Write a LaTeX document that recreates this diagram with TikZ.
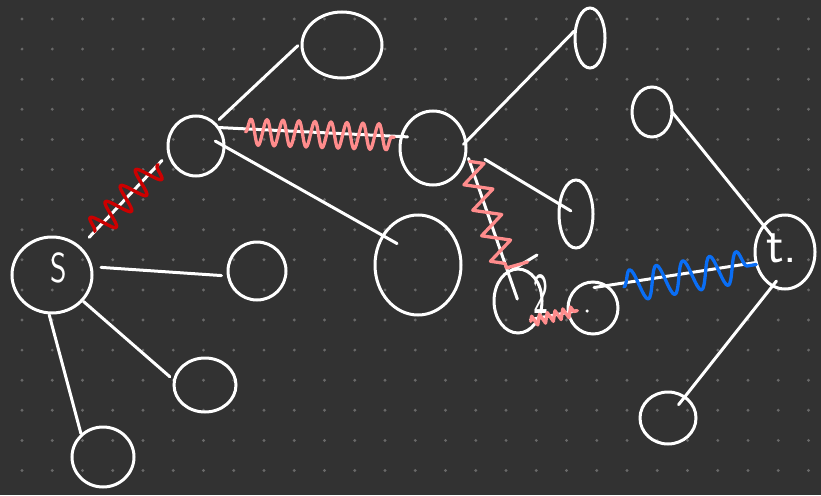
\documentclass[tikz,border=0pt]{standalone}
\usetikzlibrary{shapes.geometric,decorations.pathmorphing,calc}
\definecolor{bg}{RGB}{50,50,50}
\definecolor{griddot}{RGB}{105,105,105}
\definecolor{redw}{RGB}{204,0,0}
\definecolor{pinkw}{RGB}{255,140,140}
\definecolor{bluew}{RGB}{10,110,245}
\begin{document}
\begin{tikzpicture}[x=1pt,y=-1pt,
  vert/.style={ellipse, draw=white, line width=3pt, inner sep=0pt, outer sep=0pt},
  wire/.style={draw=white, line width=3pt, line cap=round},
  flowline/.style={line width=3.3pt, line cap=round, line join=round},
  redsnake/.style={flowline, draw=redw, decorate, decoration={snake, amplitude=13pt, segment length=22pt}},
  pinksnake/.style={flowline, draw=pinkw, decorate, decoration={snake, amplitude=13pt, segment length=16pt}},
  pinksmall/.style={flowline, draw=pinkw, decorate, decoration={zigzag, amplitude=5pt, segment length=8pt}},
  bluesnake/.style={flowline, draw=bluew, decorate, decoration={snake, amplitude=16pt, segment length=27pt}},
  lbl/.style={text=white, inner sep=0pt, font=\sffamily}]
\fill[bg] (0,0) rectangle (821,495);
\useasboundingbox (0,0) rectangle (821,495);
\foreach \i in {0,...,26} {\foreach \j in {0,...,15} {\fill[griddot] (22+30.25*\i,19+30.1*\j) circle (1.6pt);}}
% nodes
\node[vert, minimum width=80pt, minimum height=76pt]  (S) at (52,275) {};
\node[vert, minimum width=56pt, minimum height=60pt]  (A) at (196,146) {};
\node[vert, minimum width=80pt, minimum height=66pt]  (B) at (342,45) {};
\node[vert, minimum width=66pt, minimum height=74pt]  (C) at (433,148) {};
\node[vert, minimum width=86pt, minimum height=100pt] (D) at (418,265) {};
\node[vert, minimum width=30pt, minimum height=60pt]  (E) at (590,38) {};
\node[vert, minimum width=34pt, minimum height=68pt]  (F) at (576,214) {};
\node[vert, minimum width=48pt, minimum height=64pt]  (G) at (518,301) {};
\node[vert, minimum width=50pt, minimum height=52pt]  (H) at (593,308) {};
\node[vert, minimum width=60pt, minimum height=74pt]  (T) at (785,252) {};
\node[vert, minimum width=40pt, minimum height=50pt]  (I) at (652,112) {};
\node[vert, minimum width=56pt, minimum height=52pt]  (J) at (668,418) {};
\node[vert, minimum width=58pt, minimum height=58pt]  (K) at (257,271) {};
\node[vert, minimum width=62pt, minimum height=54pt]  (L) at (205,385) {};
\node[vert, minimum width=62pt, minimum height=60pt]  (M) at (103,457) {};
% labels
\node[lbl, font=\sffamily\fontsize{42}{42}\selectfont] (Slbl) at (59,268) {\scalebox{0.75}[1]{S}};
\node[lbl, font=\sffamily\fontsize{52}{52}\selectfont, anchor=base west] (Tlbl) at (766,262) {t.};
\node[lbl, font=\sffamily\fontsize{58}{58}\selectfont] (Glbl) at (541,294) {\scalebox{0.55}[1]{2}};
\node[circle, fill=white, inner sep=0pt, minimum size=3.5pt] (Hdot) at (587,311) {};
% white connectors
\draw[wire, shorten <=14pt, shorten >=10pt] (S.45) -- (A.195);
\draw[wire, shorten <=10pt, shorten >=7pt] (S.12) -- (K.190);
\draw[wire, shorten <=2pt, shorten >=6pt] (S.-40) -- (L.172);
\draw[wire, shorten <=2pt, shorten >=2pt] (S.-95) -- (M.135);
\draw[wire, shorten <=6pt, shorten >=6pt] (A.50) -- (B.175);
\draw[wire, shorten >=-6pt] (A.40) -- (C.160);
\draw[wire, shorten <=-10pt, shorten >=-16pt] (A.0) -- (D.140);
\draw[wire, shorten <=-3pt, shorten >=2pt] (C.10) -- (E.150);
\draw[wire, shorten <=22pt, shorten >=6pt] (C.0) -- (F.center);
\draw[wire, shorten <=8pt, shorten >=2pt] (C.-5) -- (G.center);
\draw[wire, shorten <=-8pt, shorten >=-8pt] (G.-40) -- (H.190);
\draw[wire, shorten <=-12pt, shorten >=0pt] (H.60) -- (T.200);
\draw[wire, shorten >=19pt] (I.0) -- (T.center);
\draw[wire, shorten <=-6pt, shorten >=17pt] (T.-110) -- (J.center);
\draw[wire] ($(G.north)+(-6,1)$) -- ($(G.north)+(19,-14)$);
% coloured flows
\draw[redsnake] ($(S.45)!0.17!(A.195)$) -- ($(S.45)!0.88!(A.195)$);
\draw[pinksnake] ($(A.40)!0.15!(C.160)+(0,3)$) -- ($(A.40)!0.96!(C.160)+(0,1)$);
\draw[flowline, draw=pinkw] ($(C.-5)!0.07!(G.center)$)
  decorate[decoration={zigzag, amplitude=13pt, segment length=27pt}] {-- ($(C.-5)!0.78!(G.center)$)}
  -- ++(21,-6);
\draw[pinksmall] ($(G.-40)!-0.25!(H.190)+(0,2)$) -- ($(G.-40)!1.3!(H.190)$);
\draw[bluesnake] ($(H.60)!0.12!(T.200)+(0,4)$) -- ($(H.60)!1.0!(T.200)+(0,2)$);
\end{tikzpicture}
\end{document}
